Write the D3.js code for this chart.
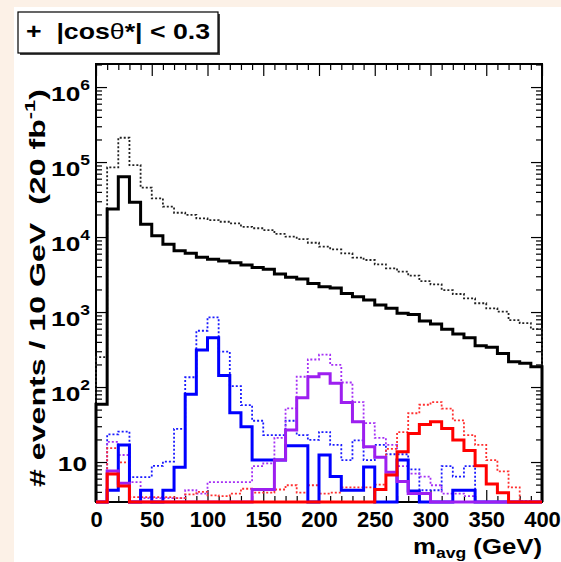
<!DOCTYPE html>
<html>
<head>
<meta charset="utf-8">
<script src="https://cdn.jsdelivr.net/npm/d3@7"></script>
<style>
  body { margin: 0; background: #fcf1e7; }
  svg { display: block; }
  text { font-family: "Liberation Sans", Arial, Helvetica, sans-serif; font-weight: bold; white-space: pre; }
</style>
</head>
<body>
<div id="container"></div>
<script>
let w = 561;
let h = 562;

// bin low edges (GeV), 10 GeV bins
let binLow = d3.range(0, 400, 10);

// events per 10 GeV (0 = empty bin)
let blackSolid = [59, 23600, 63700, 29000, 14800, 10400, 8000, 6560, 6060, 5360,
  5040, 4790, 4540, 4230, 3940, 3710, 3210, 2900, 2750, 2410,
  2170, 2090, 1770, 1600, 1450, 1240, 1120, 960, 930, 760,
  690, 590, 510, 455, 355, 340, 280, 217, 207, 187];
let blackDotted = [250, 85000, 211000, 91000, 45500, 32800, 25400, 21100, 19700, 17700,
  16800, 16000, 15200, 13700, 13100, 12400, 11000, 10100, 9400, 8390,
  7430, 6850, 6060, 5330, 4940, 4330, 3830, 3450, 3050, 2590,
  2340, 1960, 1740, 1520, 1310, 1120, 1010, 780, 710, 590];
let blueSolid = [0, 4.2, 16.9, 0, 4.2, 0, 4.2, 8.5, 80, 311,
  454, 142, 45.5, 29.6, 10.6, 10.6, 10.6, 16.5, 16.5, 0,
  12.4, 6.4, 4.2, 4.2, 8.6, 0, 0, 10.6, 4.1, 0,
  0, 0, 4.2, 4.2, 0, 0, 0, 0, 0, 0];
let blueDotted = [0, 23.3, 25.4, 6.3, 6.3, 8.9, 10.1, 27.6, 135, 563,
  850, 296, 103, 57.5, 35.5, 22.9, 22.9, 35.5, 22.9, 19.7,
  25.1, 16.9, 10.6, 19.4, 10.6, 16.9, 12.7, 12.7, 8, 4.2,
  4.2, 8.8, 6.4, 8.8, 0, 0, 0, 0, 0, 0];
let purpleSolid = [0, 7.6, 5.2, 0, 0, 0, 0, 0, 0, 0,
  0, 0, 0, 0, 4.3, 4.3, 10.6, 26.7, 72, 137,
  150, 112, 62, 34.4, 16, 11.6, 7.3, 5.5, 3.8, 3.8,
  0, 0, 0, 0, 0, 0, 0, 0, 0, 0];
let purpleDotted = [0, 18.6, 12.4, 5.4, 3.3, 3.3, 3.3, 3.3, 4.2, 3.8,
  5.4, 5.4, 5.4, 5.4, 8.8, 9.6, 21, 52, 137, 233,
  270, 197, 115, 63, 33, 21, 16.9, 8.8, 7, 6.4,
  4.9, 3.8, 3.8, 3.5, 0, 0, 0, 0, 0, 0];
let redSolid = [0, 6.9, 4.8, 0, 0, 0, 0, 0, 0, 0,
  0, 0, 0, 0, 0, 0, 0, 0, 0, 0,
  0, 0, 0, 0, 0, 4.3, 6.7, 13.7, 24, 31.6,
  34.4, 28, 19.7, 14.2, 8.9, 5.1, 3.9, 0, 0, 0];
let redDotted = [0, 15.3, 9.9, 3.4, 3.4, 3.4, 3.4, 3.3, 3.7, 4.0,
  3.6, 3.5, 3.8, 4.4, 3.9, 3.9, 4.3, 4.9, 3.9, 4.9,
  3.8, 3.9, 4.6, 4.6, 4.6, 5.0, 15, 25, 44.7, 58,
  63, 51.5, 36, 22.9, 16.9, 10.6, 7.5, 4.6, 3.0, 0];

let xMajor = [0, 50, 100, 150, 200, 250, 300, 350, 400];
let yMajor = [10, 100, 1000, 10000, 100000, 1000000];

let viz = d3.select("#container").append("svg")
  .attr("width", w)
  .attr("height", h);

// white pad (beige strip shows on the left and top)
viz.append("rect").attr("x", 14).attr("y", 7).attr("width", w - 14).attr("height", h - 7).attr("fill", "white");

let frameL = 96, frameR = 542, frameT = 64, frameB = 502;
let yMin = 2.93, yMax = 2.03e6;
let xScale = d3.scaleLinear().domain([0, 400]).range([frameL, frameR]);
let yScale = d3.scaleLog().domain([yMin, yMax]).range([frameB, frameT]);

// minor ticks
let xMinor = d3.range(0, 401, 10).filter(d => d % 50 != 0);
let yMinor = [];
for (let k = 0; k <= 6; k++) {
  for (let m = 2; m <= 9; m++) {
    let v = m * Math.pow(10, k);
    if (v > yMin && v < yMax) yMinor.push(v);
  }
}

function addAxis(axis, tx, ty) {
  let g = viz.append("g").attr("transform", "translate(" + tx + "," + ty + ")").call(axis);
  g.select(".domain").remove();
  g.selectAll("line").attr("stroke", "black").attr("stroke-width", 1.2);
  return g;
}

// bottom axis with labels
let xAxisGroup = addAxis(d3.axisBottom(xScale).tickValues(xMajor).tickSize(-12).tickPadding(9), 0, frameB);
xAxisGroup.selectAll("text").attr("font-size", 22).attr("fill", "black")
  .style("font-family", "'Liberation Sans', Arial, sans-serif").style("font-weight", "bold");
addAxis(d3.axisBottom(xScale).tickValues(xMinor).tickSize(-6).tickFormat(""), 0, frameB);
addAxis(d3.axisTop(xScale).tickValues(xMajor).tickSize(-12).tickFormat(""), 0, frameT);
addAxis(d3.axisTop(xScale).tickValues(xMinor).tickSize(-6).tickFormat(""), 0, frameT);

addAxis(d3.axisLeft(yScale).tickValues(yMajor).tickSize(-11).tickFormat(""), frameL, 0);
addAxis(d3.axisLeft(yScale).tickValues(yMinor).tickSize(-6).tickFormat(""), frameL, 0);
addAxis(d3.axisRight(yScale).tickValues(yMajor).tickSize(-11).tickFormat(""), frameR, 0);
addAxis(d3.axisRight(yScale).tickValues(yMinor).tickSize(-6).tickFormat(""), frameR, 0);

// y labels: 10, 10^2 ... 10^6 (a little wider than the font, as in the picture)
yMajor.forEach(function(v) {
  let e = Math.round(Math.log10(v));
  let yy = yScale(v);
  if (e == 1) {
    viz.append("text").attr("transform", "translate(87," + (yy + 9) + ") scale(1.25,1)")
      .attr("text-anchor", "end").attr("font-size", 21).text("10");
  } else {
    let t = viz.append("text").attr("transform", "translate(90," + (yy + 14) + ") scale(1.25,1)")
      .attr("text-anchor", "end").attr("font-size", 21);
    t.append("tspan").text("10");
    t.append("tspan").attr("font-size", 14).attr("dy", -11).text(e);
  }
});

// frame
viz.append("rect").attr("x", frameL).attr("y", frameT).attr("width", frameR - frameL).attr("height", frameB - frameT)
  .attr("fill", "none").attr("stroke", "black").attr("stroke-width", 2);

// histograms
function stepPath(values) {
  let p = d3.path();
  p.moveTo(xScale(0), yScale(yMin));
  values.forEach(function(v, i) {
    let yy = yScale(Math.max(v, yMin));
    p.lineTo(xScale(binLow[i]), yy);
    p.lineTo(xScale(binLow[i] + 10), yy);
  });
  p.lineTo(xScale(400), yScale(yMin));
  return p.toString();
}

let series = [
  { v: blackDotted, c: "#222222", dash: true },
  { v: blackSolid, c: "black", dash: false },
  { v: blueDotted, c: "#1a1aff", dash: true },
  { v: purpleDotted, c: "#a530f5", dash: true },
  { v: redDotted, c: "#ff3030", dash: true },
  { v: blueSolid, c: "#0000ff", dash: false },
  { v: purpleSolid, c: "#9d1ff0", dash: false },
  { v: redSolid, c: "#ff0000", dash: false }
];

series.forEach(function(s) {
  viz.append("path")
    .attr("d", stepPath(s.v))
    .attr("fill", "none")
    .attr("stroke", s.c)
    .attr("stroke-width", s.dash ? 1.8 : 3)
    .attr("stroke-dasharray", s.dash ? "2,2" : null)
    .attr("stroke-linejoin", "miter");
});

// axis titles
let xt = viz.append("text").attr("x", 413).attr("y", 554).attr("font-size", 22)
  .attr("textLength", 129).attr("lengthAdjust", "spacingAndGlyphs");
xt.append("tspan").text("m");
xt.append("tspan").attr("font-size", 15).attr("dy", 4).text("avg");
xt.append("tspan").attr("dy", -4).text(" (GeV)");

let yt = viz.append("text").attr("transform", "translate(45,487) rotate(-90)")
  .attr("font-size", 22).attr("textLength", 398).attr("lengthAdjust", "spacingAndGlyphs");
yt.append("tspan").text("# events / 10 GeV  (20 fb");
yt.append("tspan").attr("font-size", 15).attr("dy", -10).text("-1");
yt.append("tspan").attr("dy", 10).text(")");

// label box
viz.append("rect").attr("x", 20).attr("y", 14).attr("width", 200).attr("height", 41).attr("fill", "#444");
viz.append("rect").attr("x", 18).attr("y", 12).attr("width", 200).attr("height", 41)
  .attr("fill", "white").attr("stroke", "black").attr("stroke-width", 1.2);
let lt = viz.append("text").attr("x", 26).attr("y", 39).attr("font-size", 22)
  .attr("textLength", 184).attr("lengthAdjust", "spacingAndGlyphs");
lt.append("tspan").text("+  |cos");
lt.append("tspan").style("font-weight", "normal").text("θ");
lt.append("tspan").text("*| < 0.3");
</script>
</body>
</html>
